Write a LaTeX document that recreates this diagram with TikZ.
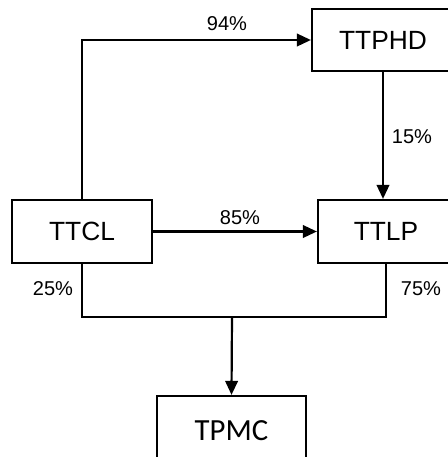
\documentclass[tikz,border=0pt]{standalone}
\usepackage{fontspec}
\setmainfont{Liberation Sans}
\newfontfamily\calibrifont{Carlito}
\usetikzlibrary{arrows.meta, positioning, calc}

\tikzset{
    box/.style={draw, line width=1.25pt, inner sep=0pt, font=\fontsize{15}{18}\selectfont},
    pct/.style={inner sep=0pt, font=\fontsize{11.4}{13}\selectfont},
    flow/.style={line width=1.25pt, -{Triangle[length=0.28cm,width=0.25cm]}},
    link/.style={line width=1.25pt}
}

\begin{document}
\begin{tikzpicture}[x=0.02cm, y=-0.02cm]
    \useasboundingbox (0,0) rectangle (448,457);
    \clip (0,0) rectangle (448,457);

    \node[box, minimum width=2.84cm, minimum height=1.24cm] (ttphd) at (383, 40) {TTPHD};
    \node[box, minimum width=2.80cm, minimum height=1.26cm] (ttcl) at (82, 231.5) {TTCL};
    \node[box, minimum width=2.72cm, minimum height=1.26cm] (ttlp) at (386, 231.5) {TTLP};
    \node[box, minimum width=2.98cm, minimum height=1.40cm, font=\calibrifont\fontsize{17.5}{20}\selectfont] (tpmc) at (231.5, 431) {TPMC};
    \coordinate (jn) at (232, 317);

    \node[pct] (p94) at (227, 24) {94\%};
    \node[pct] (p15) at (412, 137) {15\%};
    \node[pct] (p85) at (240, 218) {85\%};
    \node[pct] (p25) at (53, 289) {25\%};
    \node[pct] (p75) at (421, 289) {75\%};

    \draw[flow] (ttcl.north) |- (ttphd.west);
    \draw[flow] (ttphd.south) -- (ttphd.south |- ttlp.north);
    \draw[flow] (ttcl.east) -- (ttlp.west);
    \draw[link] (ttcl.south) |- (jn) -| (ttlp.south);
    \draw[flow] (jn) -- (tpmc.north);
\end{tikzpicture}
\end{document}
